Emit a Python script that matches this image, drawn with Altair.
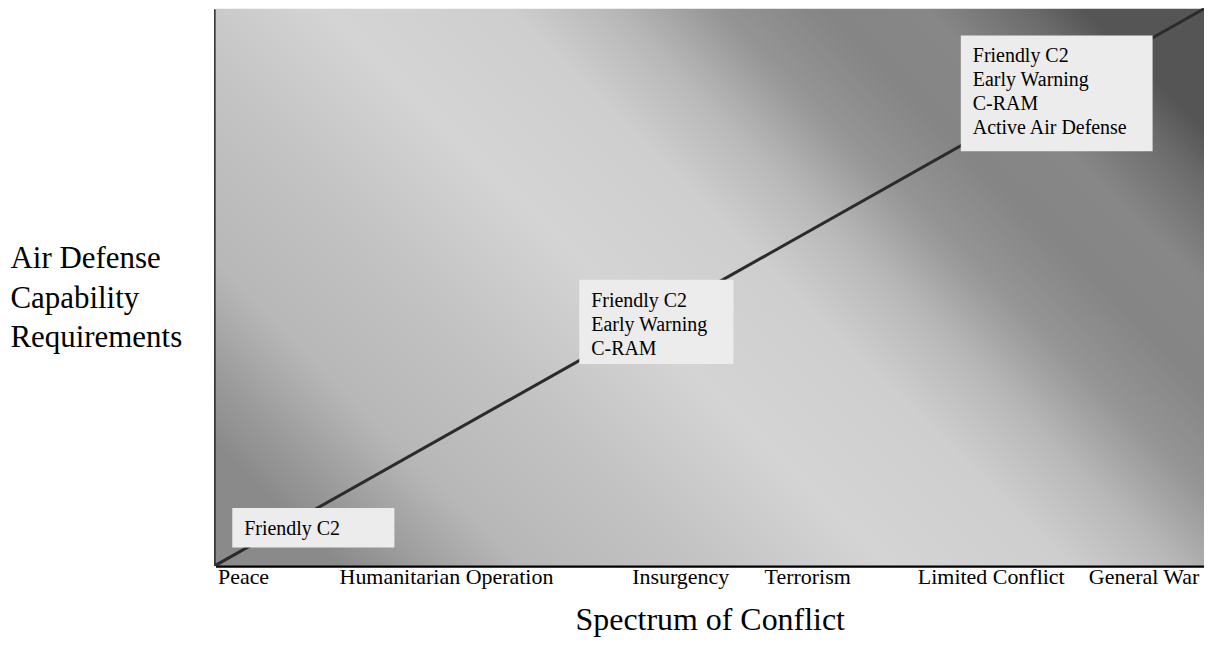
import altair as alt
import pandas as pd

# ---- data ----
x_domain = [0, 100]
y_domain = [0, 100]

conflict_labels = ["Peace", "Humanitarian Operation", "Insurgency", "Terrorism",
                   "Limited Conflict", "General War"]
conflict_pos = [0.2, 12.5, 42.1, 55.5, 71.0, 88.3]

line_x = [0, 100]
line_y = [0, 100]

box_x = [1.7, 36.8, 75.4]
box_x2 = [18.1, 52.4, 94.8]
box_y = [3.2, 36.2, 74.4]
box_y2 = [10.3, 51.3, 95.2]
box_text = [
    ["Friendly C2"],
    ["Friendly C2", "Early Warning", "C-RAM"],
    ["Friendly C2", "Early Warning", "C-RAM", "Active Air Defense"],
]

y_title = ["Air Defense", "Capability", "Requirements"]
x_title = "Spectrum of Conflict"

# ---- tables ----
bg_df = pd.DataFrame({"x0": [x_domain[0]], "x1": [x_domain[1]],
                      "y0": [y_domain[0]], "y1": [y_domain[1]]})
line_df = pd.DataFrame({"x": line_x, "y": line_y})
box_df = pd.DataFrame({"bx": box_x, "bx2": box_x2, "by": box_y, "by2": box_y2,
                       "txt": ["\n".join(t) for t in box_text]})

FONT = "Liberation Serif"

label_expr = "[{}][indexof([{}], datum.value)]".format(
    ",".join("'" + s + "'" for s in conflict_labels),
    ",".join(str(v) for v in conflict_pos),
)

x_axis = alt.Axis(
    values=conflict_pos, labelExpr=label_expr, ticks=False, grid=False,
    domain=True, domainColor="#000000", domainWidth=3.5,
    labelAlign="left", labelBaseline="top", labelPadding=1, labelLimit=0,
    labelFontSize=22, labelFont=FONT, labelColor="black",
    labelOverlap=False, labelFlush=False, labelBound=False,
    title=x_title, titleFont=FONT, titleFontSize=32, titleFontWeight="normal",
    titleColor="black", titleBaseline="alphabetic", titleY=64,
)
y_axis = alt.Axis(
    ticks=False, labels=False, grid=False,
    domain=True, domainColor="#000000", domainWidth=3.5,
    title=y_title, titleFont=FONT, titleFontSize=31, titleFontWeight="normal",
    titleColor="black", titleAngle=0, titleAlign="left",
    titleBaseline="alphabetic", titleX=-206, titleY=259, titleLineHeight=40,
)
xs = alt.Scale(domain=x_domain, nice=False, zero=False)
ys = alt.Scale(domain=y_domain, nice=False, zero=False)

grad = alt.Gradient(
    gradient="linear", x1=0, y1=0.784, x2=1, y2=0.216,
    stops=[
        alt.GradientStop(offset=0.00, color="#8a8a8a"),
        alt.GradientStop(offset=0.05, color="#999999"),
        alt.GradientStop(offset=0.14, color="#b7b7b7"),
        alt.GradientStop(offset=0.28, color="#c3c3c3"),
        alt.GradientStop(offset=0.42, color="#d4d4d4"),
        alt.GradientStop(offset=0.56, color="#cecece"),
        alt.GradientStop(offset=0.64, color="#b8b8b8"),
        alt.GradientStop(offset=0.72, color="#959595"),
        alt.GradientStop(offset=0.80, color="#858585"),
        alt.GradientStop(offset=0.88, color="#878787"),
        alt.GradientStop(offset=0.96, color="#6a6a6a"),
        alt.GradientStop(offset=1.00, color="#555555"),
    ],
)

bg = alt.Chart(bg_df).mark_rect(fill=grad).encode(
    x=alt.X("x0:Q", scale=xs, axis=x_axis),
    x2="x1:Q",
    y=alt.Y("y0:Q", scale=ys, axis=y_axis),
    y2="y1:Q",
)

line = alt.Chart(line_df).mark_line(color="#2b2b2b", strokeWidth=3).encode(
    x=alt.X("x:Q", scale=xs, axis=x_axis),
    y=alt.Y("y:Q", scale=ys, axis=y_axis),
)

boxes = alt.Chart(box_df).mark_rect(fill="#ececec").encode(
    x=alt.X("bx:Q", scale=xs, axis=x_axis),
    x2="bx2:Q",
    y=alt.Y("by:Q", scale=ys, axis=y_axis),
    y2="by2:Q",
)

texts = alt.Chart(box_df).mark_text(
    align="left", baseline="top", dx=12, dy=11, fontSize=20, font=FONT,
    lineHeight=24, lineBreak="\n", color="black",
).encode(
    x=alt.X("bx:Q", scale=xs, axis=x_axis),
    y=alt.Y("by2:Q", scale=ys, axis=y_axis),
    text="txt:N",
)

chart = alt.layer(bg, line, boxes, texts).properties(
    width=991, height=558,
    padding={"left": 208, "top": 0, "right": 0, "bottom": 74},
    autosize=alt.AutoSizeParams(type="none"),
).configure_view(stroke=None)

chart.save("out.html", embed_options={"renderer": "svg", "actions": False})
